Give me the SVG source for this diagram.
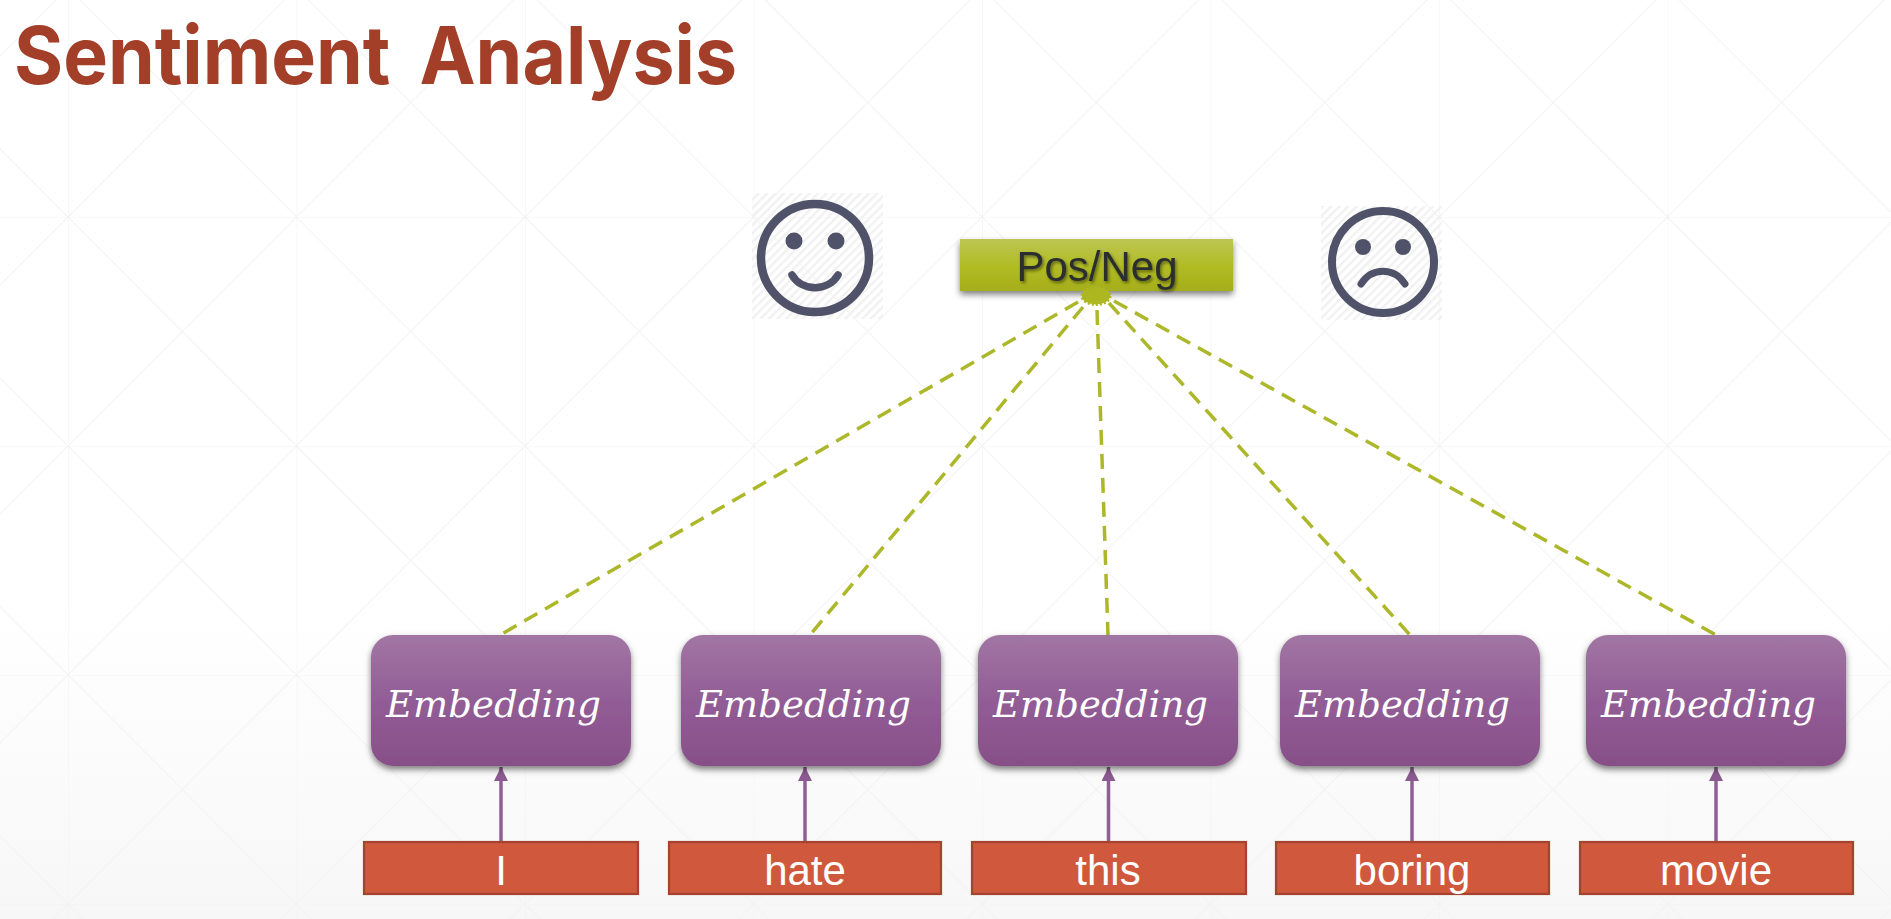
<svg xmlns="http://www.w3.org/2000/svg" width="1891" height="919" viewBox="0 0 1891 919">
  <defs>
    <linearGradient id="pageFade" x1="0" y1="0" x2="0" y2="1">
      <stop offset="0" stop-color="#ffffff"/>
      <stop offset="0.66" stop-color="#ffffff"/>
      <stop offset="1" stop-color="#f7f7f7"/>
    </linearGradient>
    <linearGradient id="purple" x1="0" y1="0" x2="0" y2="1">
      <stop offset="0" stop-color="#a176a3"/>
      <stop offset="0.5" stop-color="#925d96"/>
      <stop offset="1" stop-color="#874f88"/>
    </linearGradient>
    <linearGradient id="olive" x1="0" y1="0" x2="0" y2="1">
      <stop offset="0" stop-color="#bdc653"/>
      <stop offset="0.55" stop-color="#b0bb22"/>
      <stop offset="1" stop-color="#a5ae1c"/>
    </linearGradient>
    <!-- Faint triangular lattice behind the slide -->
    <pattern id="lattice" patternUnits="userSpaceOnUse" x="68" y="217" width="228.5" height="229">
      <path d="M0 0H228.5M0 0V229M0 0L228.5 229M228.5 0L0 229" fill="none" stroke="#f3f3f3" stroke-width="1.1"/>
    </pattern>
    <pattern id="hatch" patternUnits="userSpaceOnUse" width="6" height="6" patternTransform="rotate(45)">
      <rect width="2.4" height="6" fill="#f1f1f1"/>
    </pattern>
    <filter id="softShadow" x="-10%" y="-15%" width="120%" height="135%">
      <feDropShadow dx="0" dy="3.5" stdDeviation="3" flood-color="#000000" flood-opacity="0.5"/>
    </filter>
    <filter id="textShadow" x="-10%" y="-20%" width="120%" height="150%">
      <feDropShadow dx="1.5" dy="2" stdDeviation="1.5" flood-color="#000000" flood-opacity="0.45"/>
    </filter>
    <marker id="arrowHead" markerUnits="userSpaceOnUse" markerWidth="16" markerHeight="14" refX="14" refY="7" orient="auto">
      <path d="M0 0L14 7L0 14Z" fill="#8a5a90"/>
    </marker>
    <style>
      .title { font: bold 80px Inter, "Open Sans", sans-serif; fill: #a33e28; word-spacing: 12px; }
      .emb { fill: url(#purple); filter: url(#softShadow); }
      .embText { font: italic 37px "DejaVu Serif", "Liberation Serif", serif; fill: #ffffff; }
      .word { fill: #d0583c; stroke: #a5442e; stroke-width: 2.2; }
      .wordText { font: 42px "Liberation Sans", Arial, sans-serif; fill: #ffffff; text-anchor: middle; }
      .dash { stroke: #adb72a; stroke-width: 3.5; stroke-dasharray: 15 9; fill: none; }
      .feed { stroke: #8f5f94; stroke-width: 3.5; fill: none; marker-end: url(#arrowHead); }
      .face { fill: none; stroke: #4f5268; stroke-linecap: round; }
      .eye { fill: #4f5268; }
    </style>
  </defs>

  <rect width="1891" height="919" fill="url(#pageFade)"/>
  <rect width="1891" height="919" fill="url(#lattice)"/>

  <text class="title" x="14" y="84" textLength="723" lengthAdjust="spacingAndGlyphs">Sentiment Analysis</text>

  <g id="connectors">
    <line class="dash" x1="1078" y1="302" x2="500" y2="635"/>
    <line class="dash" x1="1083" y1="307" x2="810" y2="635"/>
    <line class="dash" x1="1097" y1="310" x2="1108" y2="635"/>
    <line class="dash" x1="1109" y1="303" x2="1410" y2="635"/>
    <line class="dash" x1="1114" y1="301" x2="1716" y2="635"/>
    <line class="feed" x1="501" y1="841" x2="501" y2="767"/>
    <line class="feed" x1="805" y1="841" x2="805" y2="767"/>
    <line class="feed" x1="1108.5" y1="841" x2="1108.5" y2="767"/>
    <line class="feed" x1="1412" y1="841" x2="1412" y2="767"/>
    <line class="feed" x1="1716" y1="841" x2="1716" y2="767"/>
  </g>

  <g id="happy-face">
    <rect x="752" y="193" width="131" height="126" fill="url(#hatch)"/>
    <circle class="face" cx="815" cy="258" r="54" stroke-width="8.5"/>
    <circle class="eye" cx="794" cy="241" r="8.5"/>
    <circle class="eye" cx="836" cy="241" r="8.5"/>
    <path class="face" d="M792 275C802 292 828 292 838 275" stroke-width="7.5"/>
  </g>

  <g id="sad-face">
    <rect x="1321" y="206" width="121" height="114" fill="url(#hatch)"/>
    <circle class="face" cx="1383" cy="262" r="51" stroke-width="8"/>
    <circle class="eye" cx="1363" cy="247" r="8"/>
    <circle class="eye" cx="1403" cy="247" r="8"/>
    <path class="face" d="M1361 284C1372 267 1394 267 1405 284" stroke-width="7"/>
  </g>

  <g id="pos-neg">
    <rect x="960" y="239" width="273" height="52" fill="url(#olive)" filter="url(#softShadow)"/>
    <ellipse cx="1096" cy="296" rx="14" ry="8.5" fill="#adb71f" stroke="#adb71f" stroke-width="3" stroke-dasharray="2 2"/>
    <text x="1097" y="281" text-anchor="middle" font-family="'Liberation Sans', Arial, sans-serif" font-size="42" fill="#2b2f2e" filter="url(#textShadow)">Pos/Neg</text>
  </g>

  <g id="embedding-1"><rect class="emb" x="371" y="635" width="260" height="131" rx="22"/><text class="embText" x="386" y="717" textLength="215">Embedding</text></g>
  <g id="embedding-2"><rect class="emb" x="681" y="635" width="260" height="131" rx="22"/><text class="embText" x="696" y="717" textLength="215">Embedding</text></g>
  <g id="embedding-3"><rect class="emb" x="978" y="635" width="260" height="131" rx="22"/><text class="embText" x="993" y="717" textLength="215">Embedding</text></g>
  <g id="embedding-4"><rect class="emb" x="1280" y="635" width="260" height="131" rx="22"/><text class="embText" x="1295" y="717" textLength="215">Embedding</text></g>
  <g id="embedding-5"><rect class="emb" x="1586" y="635" width="260" height="131" rx="22"/><text class="embText" x="1601" y="717" textLength="215">Embedding</text></g>

  <g id="word-i"><rect class="word" x="364" y="842" width="274" height="52"/><text class="wordText" x="501" y="885">I</text></g>
  <g id="word-hate"><rect class="word" x="669" y="842" width="272" height="52"/><text class="wordText" x="805" y="885">hate</text></g>
  <g id="word-this"><rect class="word" x="972" y="842" width="274" height="52"/><text class="wordText" x="1108" y="885">this</text></g>
  <g id="word-boring"><rect class="word" x="1276" y="842" width="273" height="52"/><text class="wordText" x="1412" y="885">boring</text></g>
  <g id="word-movie"><rect class="word" x="1580" y="842" width="273" height="52"/><text class="wordText" x="1716" y="885">movie</text></g>
</svg>
